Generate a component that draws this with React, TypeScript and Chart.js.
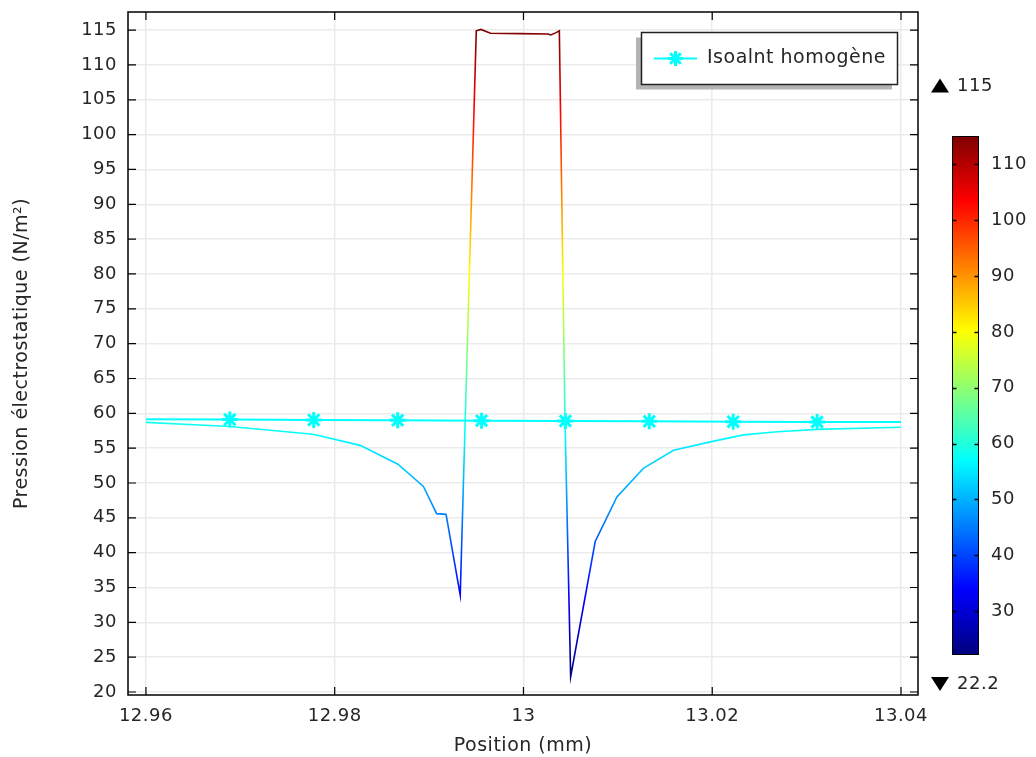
import React, { useEffect, useRef } from "react";
import { Chart, registerables } from "chart.js";

Chart.register(...registerables);

// ---- Data ----
const positionMm = [
  12.96, 12.9689, 12.9777, 12.9827, 12.9867, 12.9894, 12.9908, 12.9918, 12.9933,
  12.995, 12.9955, 12.9965, 12.9996, 13.0026, 13.0029, 13.0034, 13.0038, 13.0044,
  13.005, 13.0076, 13.0099, 13.0127, 13.0159, 13.0198, 13.0233, 13.0269, 13.0311, 13.04,
];
const pressure = [
  58.7, 58.1, 57.0, 55.4, 52.7, 49.5, 45.6, 45.5, 33.9,
  114.9, 115.1, 114.55, 114.5, 114.45, 114.3, 114.6, 114.9, 59.0,
  22.2, 41.6, 48.0, 52.1, 54.7, 55.9, 56.9, 57.35, 57.7, 58.0,
];

const refPosition = [
  12.96, 12.96889, 12.97778, 12.98667, 12.99556, 13.00444, 13.01333, 13.02222, 13.03111, 13.04,
];
const refPressure = [59.15, 59.1, 59.05, 59.0, 58.95, 58.9, 58.85, 58.8, 58.75, 58.75];
const refMarker = [false, true, true, true, true, true, true, true, true, false];

const xTicks = [12.96, 12.98, 13, 13.02, 13.04];
const yTicks = [20, 25, 30, 35, 40, 45, 50, 55, 60, 65, 70, 75, 80, 85, 90, 95, 100, 105, 110, 115];
const colorTicks = [30, 40, 50, 60, 70, 80, 90, 100, 110];
const colorMin = 22.2;
const colorMax = 115;

const seriesLabel = "Isoalnt homogène";
const xTitle = "Position (mm)";
const yTitle = "Pression électrostatique (N/m²)";

// ---- Styles ----
const FONT = "'DejaVu Sans', sans-serif";
const TEXT = "#262626";
const CYAN = "#00ffff";
const SPACING = "0.5px";
const jetStops: [number, string][] = [
  [0, "#00007f"],
  [0.125, "#0000ff"],
  [0.375, "#00ffff"],
  [0.625, "#ffff00"],
  [0.875, "#ff0000"],
  [1, "#7f0000"],
];

function jetGradient(ctx: CanvasRenderingContext2D, yBottom: number, yTop: number) {
  const g = ctx.createLinearGradient(0, yBottom, 0, yTop);
  jetStops.forEach(([t, c]) => g.addColorStop(t, c));
  return g;
}

const spacingPlugin = {
  id: "letterSpacing",
  beforeUpdate(chart: any) {
    (chart.ctx as any).letterSpacing = SPACING;
  },
  beforeDraw(chart: any) {
    (chart.ctx as any).letterSpacing = SPACING;
  },
};

const framePlugin = {
  id: "comsolFrame",
  afterDraw(chart: any) {
    const { ctx, chartArea, scales } = chart;
    const { left, right, top, bottom } = chartArea;
    const xs = scales.x;
    const ys = scales.y;
    ctx.save();
    (ctx as any).letterSpacing = SPACING;
    // frame
    ctx.strokeStyle = "#000";
    ctx.lineWidth = 1.5;
    ctx.strokeRect(left, top, right - left, bottom - top);
    // inward ticks
    const tl = 8;
    ctx.lineWidth = 1.2;
    ctx.beginPath();
    xs.ticks.forEach((t: any) => {
      const px = xs.getPixelForValue(t.value);
      ctx.moveTo(px, bottom);
      ctx.lineTo(px, bottom - tl);
      ctx.moveTo(px, top);
      ctx.lineTo(px, top + tl);
    });
    ys.ticks.forEach((t: any) => {
      const py = ys.getPixelForValue(t.value);
      ctx.moveTo(left, py);
      ctx.lineTo(left + tl, py);
      ctx.moveTo(right, py);
      ctx.lineTo(right - tl, py);
    });
    ctx.stroke();

    // legend
    const ds = chart.data.datasets[1];
    const bx = 641.5, by = 32.5, bw = 256, bh = 52;
    ctx.fillStyle = "#b4b4b4";
    ctx.fillRect(bx - 5.5, by + 5, bw, bh);
    ctx.fillStyle = "#fff";
    ctx.fillRect(bx, by, bw, bh);
    ctx.strokeStyle = "#222";
    ctx.lineWidth = 1.5;
    ctx.strokeRect(bx, by, bw, bh);
    const ly = by + bh / 2;
    ctx.strokeStyle = ds.borderColor;
    ctx.lineWidth = 2;
    ctx.beginPath();
    ctx.moveTo(654, ly);
    ctx.lineTo(697, ly);
    ctx.stroke();
    // star marker
    ctx.lineWidth = 3;
    const r = 7.5;
    ctx.beginPath();
    for (let k = 0; k < 4; k++) {
      const a = (k * Math.PI) / 4;
      ctx.moveTo(675.5 + r * Math.cos(a), ly + r * Math.sin(a));
      ctx.lineTo(675.5 - r * Math.cos(a), ly - r * Math.sin(a));
    }
    ctx.stroke();
    ctx.fillStyle = TEXT;
    ctx.font = `19px ${FONT}`;
    ctx.textAlign = "left";
    ctx.textBaseline = "middle";
    ctx.fillText(ds.label, 707, ly);

    // colorbar
    const cbL = 952.5, cbR = 978.5, cbT = 136.5, cbB = 654.5;
    const cv = (v: number) => cbB - ((v - colorMin) / (colorMax - colorMin)) * (cbB - cbT);
    ctx.fillStyle = jetGradient(ctx, cbB, cbT);
    ctx.fillRect(cbL, cbT, cbR - cbL, cbB - cbT);
    ctx.strokeStyle = "#000";
    ctx.lineWidth = 1;
    ctx.strokeRect(cbL, cbT, cbR - cbL, cbB - cbT);
    ctx.beginPath();
    colorTicks.forEach((v) => {
      const py = Math.round(cv(v)) + 0.5;
      ctx.moveTo(cbL, py);
      ctx.lineTo(cbL + 4, py);
      ctx.moveTo(cbR, py);
      ctx.lineTo(cbR - 4, py);
    });
    ctx.lineWidth = 1.5;
    ctx.stroke();
    ctx.fillStyle = TEXT;
    ctx.font = `18px ${FONT}`;
    colorTicks.forEach((v) => {
      ctx.fillText(String(v), 991, cv(v));
    });
    // max / min markers
    ctx.fillStyle = "#000";
    ctx.beginPath();
    ctx.moveTo(931, 92.5);
    ctx.lineTo(949, 92.5);
    ctx.lineTo(940, 78.5);
    ctx.closePath();
    ctx.fill();
    ctx.beginPath();
    ctx.moveTo(931, 677);
    ctx.lineTo(949, 677);
    ctx.lineTo(940, 691);
    ctx.closePath();
    ctx.fill();
    ctx.fillStyle = TEXT;
    ctx.fillText(String(colorMax), 957, 86);
    ctx.fillText(String(colorMin), 957, 684);
    ctx.restore();
  },
};

export default function App() {
  const ref = useRef<HTMLCanvasElement | null>(null);

  useEffect(() => {
    document.body.style.margin = "0";
    const canvas = ref.current;
    if (!canvas) return;
    const chart = new Chart(canvas, {
      type: "line",
      data: {
        datasets: [
          {
            label: "main",
            data: positionMm.map((x, i) => ({ x, y: pressure[i] })),
            borderColor: (c: any) => {
              const ch = c.chart;
              if (!ch.chartArea) return "#00ffff";
              const ys = ch.scales.y;
              return jetGradient(ch.ctx, ys.getPixelForValue(colorMin), ys.getPixelForValue(colorMax));
            },
            borderWidth: 1.6,
            pointRadius: 0,
            tension: 0,
            fill: false,
          },
          {
            label: seriesLabel,
            data: refPosition.map((x, i) => ({ x, y: refPressure[i] })),
            borderColor: CYAN,
            backgroundColor: CYAN,
            borderWidth: 2,
            pointStyle: "star",
            pointRadius: refMarker.map((m) => (m ? 8 : 0)),
            pointBorderWidth: 3,
            pointBorderColor: CYAN,
            tension: 0,
            fill: false,
          },
        ],
      },
      options: {
        animation: false,
        responsive: false,
        devicePixelRatio: 1,
        layout: { padding: { left: 0, top: 12, right: 118, bottom: 0 } },
        plugins: { legend: { display: false }, tooltip: { enabled: false } },
        scales: {
          x: {
            type: "linear",
            min: 12.9581,
            max: 13.0418,
            afterBuildTicks: (s: any) => {
              s.ticks = xTicks.map((value) => ({ value }));
            },
            afterFit: (s: any) => {
              s.height = 62;
              s.paddingLeft = 0;
              s.paddingRight = 0;
            },
            border: { display: false },
            grid: { color: "#ebebeb", lineWidth: 1.5, drawTicks: false },
            ticks: {
              padding: 11,
              color: TEXT,
              font: { family: FONT, size: 18 },
              callback: (v: any) => String(Number(Number(v).toFixed(2))),
            },
            title: {
              display: true,
              text: xTitle,
              color: TEXT,
              font: { family: FONT, size: 19 },
              padding: { top: 2, bottom: 0 },
            },
          },
          y: {
            type: "linear",
            min: 19.57,
            max: 117.6,
            afterBuildTicks: (s: any) => {
              s.ticks = yTicks.map((value) => ({ value }));
            },
            afterFit: (s: any) => {
              s.width = 128;
              s.paddingTop = 0;
              s.paddingBottom = 0;
            },
            border: { display: false },
            grid: { color: "#ebebeb", lineWidth: 1.5, drawTicks: false },
            ticks: {
              padding: 11,
              color: TEXT,
              font: { family: FONT, size: 18 },
              callback: (v: any) => String(v),
            },
            title: {
              display: true,
              text: yTitle,
              color: TEXT,
              font: { family: FONT, size: 19 },
              padding: { top: 11, bottom: 0 },
            },
          },
        },
      },
      plugins: [spacingPlugin, framePlugin],
    } as any);
    return () => chart.destroy();
  }, []);

  return <canvas ref={ref} width={1036} height={757} style={{ display: "block" }} />;
}
